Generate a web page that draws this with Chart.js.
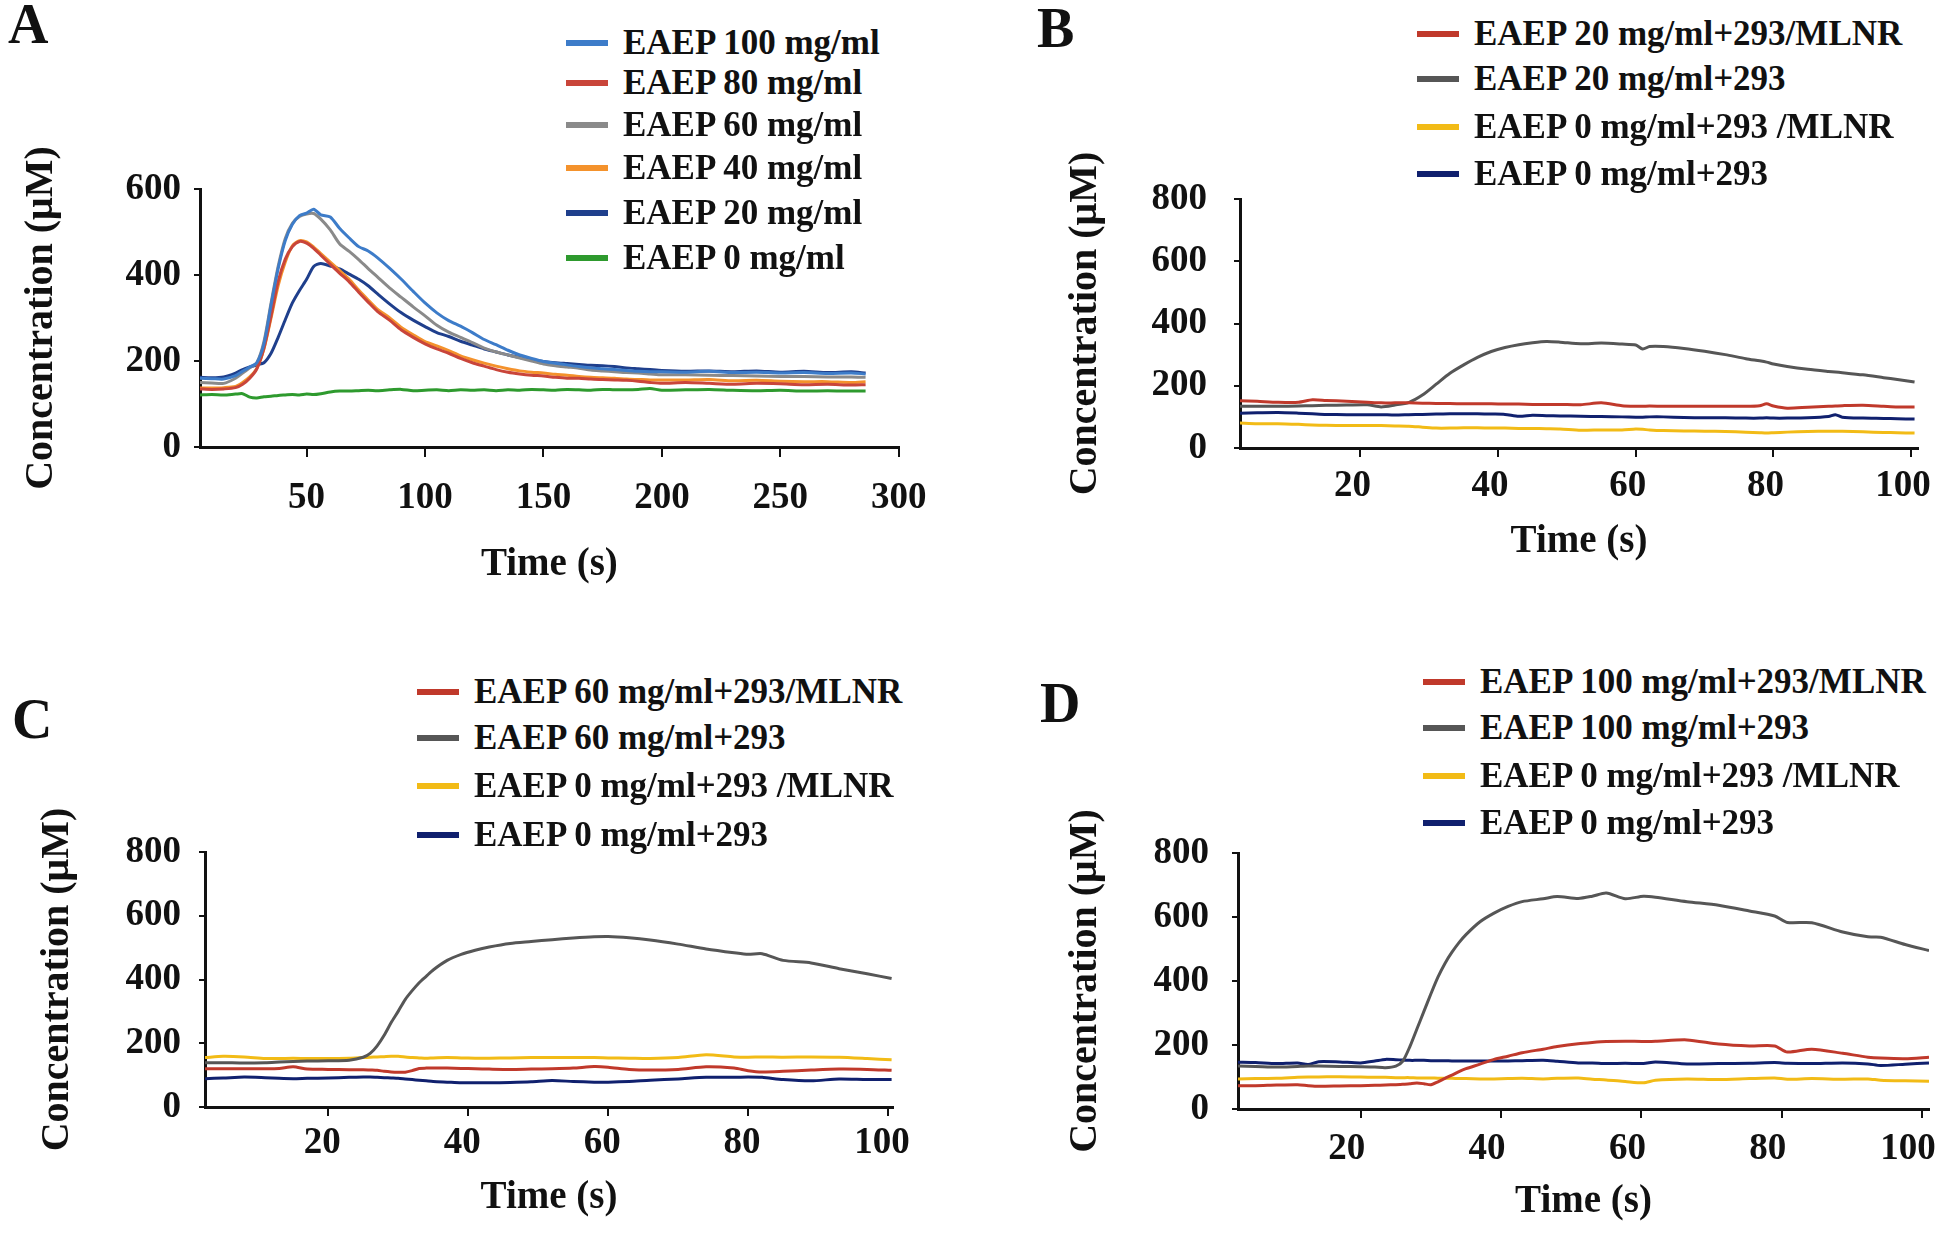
<!DOCTYPE html>
<html>
<head>
<meta charset="utf-8">
<title>EAEP concentration curves</title>
<script src="https://cdn.jsdelivr.net/npm/chart.js@4.4.1/dist/chart.umd.min.js"></script>
<style>
  html, body { margin: 0; padding: 0; background: #fff; }
  #page {
    position: relative; width: 1946px; height: 1238px; overflow: hidden;
    font-family: "Liberation Serif", "Times New Roman", serif; font-weight: bold; color: #111;
  }
  .chart-wrap { position: absolute; }
  .letter { position: absolute; font-size: 56px; line-height: 1; }
  .legend-row {
    position: absolute; display: flex; align-items: center; white-space: nowrap;
    height: 40px; transform: translateY(-50%); font-size: 35px;
  }
  .swatch { display: inline-block; width: 42px; height: 6px; margin-right: 15px; }
</style>
</head>
<body>
<div id="page"></div>
<script>
// ---- Panel A : EAEP dose series ----
const aTime = [5, 10, 15, 20, 23, 26, 29, 32, 35, 38, 41, 44, 47, 50, 53, 56, 60, 64, 68, 72, 76, 80, 85, 90, 95, 100,
  105, 110, 115, 120, 125, 130, 135, 140, 145, 150, 155, 160, 165, 170, 175, 180, 185, 190, 195, 200,
  210, 220, 230, 240, 250, 260, 270, 280, 286];
const aEaep100 = [160, 159, 158, 166, 176, 186, 196, 240, 330, 415, 480, 518, 538, 544, 553, 540, 535, 508, 486, 466, 456, 440, 416, 390, 362, 335,
  312, 294, 281, 266, 250, 238, 225, 214, 206, 199, 195, 191, 187, 184, 182, 180, 178, 176, 175, 175,
  174, 176, 173, 174, 172, 173, 171, 172, 170];
const aEaep80 = [135, 134, 135, 138, 146, 160, 182, 230, 305, 385, 437, 466, 478, 474, 462, 446, 425, 404, 384, 360, 337, 315, 295, 272, 255, 240,
  228, 218, 206, 196, 188, 180, 174, 170, 167, 165, 162, 160, 160, 158, 157, 156, 155, 153, 150, 148,
  150, 148, 146, 148, 147, 145, 146, 144, 145];
const aEaep60 = [150, 149, 148, 160, 172, 184, 196, 245, 335, 420, 485, 520, 536, 542, 543, 530, 505, 472, 455, 436, 415, 395, 370, 348, 326, 305,
  283, 267, 255, 243, 230, 221, 214, 207, 200, 193, 189, 186, 183, 179, 177, 175, 173, 172, 170, 168,
  168, 167, 166, 165, 164, 164, 163, 163, 162];
const aEaep40 = [137, 137, 138, 141, 150, 163, 183, 228, 300, 375, 430, 468, 480, 477, 465, 450, 430, 410, 390, 365, 342, 320, 301, 278, 261, 245,
  235, 224, 212, 203, 195, 188, 182, 177, 174, 172, 169, 167, 164, 162, 161, 160, 158, 157, 156, 156,
  156, 157, 154, 155, 153, 152, 152, 150, 152];
const aEaep20 = [162, 161, 163, 172, 180, 186, 191, 196, 218, 255, 296, 335, 364, 390, 420, 427, 421, 414, 402, 390, 375, 356, 333, 312, 295, 280,
  266, 257, 246, 237, 228, 221, 214, 208, 203, 199, 196, 194, 192, 190, 189, 187, 184, 182, 180, 178,
  176, 177, 175, 177, 174, 176, 173, 175, 172];
const aEaep0 = [121, 122, 121, 123, 124, 116, 114, 117, 118, 120, 121, 122, 121, 123, 122, 124, 128, 130, 130, 131, 132, 131, 133, 134, 131, 132,
  133, 131, 133, 132, 133, 131, 133, 132, 134, 133, 132, 134, 133, 132, 134, 133, 133, 134, 136, 132,
  133, 134, 132, 131, 132, 130, 131, 130, 130];
const aXTicks = [50, 100, 150, 200, 250, 300];
const aYTicks = [0, 200, 400, 600];

// ---- Panel B : EAEP 20 mg/ml ----
const bTime = [2.5, 5, 8, 11, 13, 15, 18, 21, 23, 25, 27, 29, 31, 33, 35, 37, 39, 41, 43, 45, 47, 49, 52, 55, 58, 60, 61, 62,
  64, 67, 70, 73, 76, 78, 79, 80, 82, 85, 88, 89, 90, 93, 96, 98, 100.5];
const bDoseMlnr = [152, 150, 147, 147, 155, 153, 150, 147, 145, 145, 145, 144, 143, 143, 142, 142, 142, 141, 141, 140, 140, 140, 139, 145, 136, 134, 134, 135,
  134, 134, 134, 134, 134, 136, 142, 135, 128, 131, 134, 135, 136, 137, 134, 132, 132];
const bDose = [134, 134, 134, 135, 136, 137, 138, 139, 132, 138, 146, 170, 205, 240, 267, 291, 310, 323, 332, 338, 342, 340, 335, 337, 334, 331, 318, 326,
  326, 320, 311, 300, 287, 280, 276, 270, 262, 253, 246, 244, 242, 235, 226, 220, 212];
const bZeroMlnr = [80, 78, 78, 76, 74, 73, 72, 72, 72, 71, 70, 67, 64, 64, 65, 65, 64, 64, 63, 63, 62, 61, 57, 58, 58, 61, 60, 58,
  56, 55, 54, 53, 51, 49, 48, 49, 51, 53, 54, 54, 54, 52, 50, 49, 48];
const bZero = [112, 113, 114, 112, 110, 108, 107, 107, 107, 106, 107, 108, 109, 110, 110, 110, 109, 108, 102, 105, 104, 103, 102, 101, 100, 99, 99, 100,
  100, 98, 97, 97, 96, 96, 97, 96, 96, 97, 101, 107, 99, 96, 95, 94, 93];

// ---- Panel C : EAEP 60 mg/ml ----
const cTime = [2.4, 5, 8, 11, 13, 15, 17, 20, 23, 25, 26, 27, 28, 29, 30, 31, 32, 33, 34, 35, 37, 39, 41, 43, 46, 49, 52,
  55, 58, 60, 63, 66, 70, 74, 78, 80, 82, 85, 89, 93, 97, 100.5];
const cDoseMlnr = [120, 120, 120, 120, 121, 126, 119, 118, 117, 117, 116, 115, 112, 110, 109, 109, 114, 121, 122, 122, 122, 121, 120, 119, 118, 119, 120,
  122, 127, 125, 118, 116, 118, 126, 122, 114, 110, 112, 116, 119, 118, 115];
const cDose = [139, 139, 138, 139, 141, 143, 144, 145, 147, 156, 168, 192, 225, 265, 300, 337, 365, 390, 410, 430, 460, 479, 492, 502, 513, 519, 525,
  530, 534, 535, 531, 524, 511, 496, 484, 479, 481, 460, 452, 434, 418, 403];
const cZeroMlnr = [155, 159, 157, 152, 152, 153, 152, 152, 153, 155, 156, 157, 158, 159, 159, 157, 155, 154, 153, 154, 155, 154, 153, 153, 154, 155, 155,
  155, 155, 154, 153, 152, 155, 164, 157, 156, 157, 156, 157, 156, 152, 148];
const cZero = [89, 91, 94, 92, 90, 89, 90, 91, 93, 94, 94, 93, 92, 91, 90, 88, 86, 84, 82, 80, 78, 76, 76, 76, 77, 79, 83,
  80, 78, 78, 80, 84, 88, 93, 93, 94, 93, 86, 82, 88, 86, 86];

// ---- Panel D : EAEP 100 mg/ml ----
const dTime = [2.5, 5, 8, 11, 12.5, 14, 17, 20, 22, 23.5, 25, 26, 27, 28, 29, 30, 31, 32, 33, 34, 35, 37, 39, 41, 43, 46,
  48, 51, 53, 55, 57.7, 60.3, 62, 66.5, 71, 75.4, 79, 80.8, 84.3, 88.7, 92.3, 94.1, 97.6, 101];
const dDoseMlnr = [73, 73, 75, 76, 73, 71, 72, 73, 74, 75, 76, 77, 79, 81, 79, 76, 85, 96, 106, 117, 126, 140, 155, 165, 176, 187,
  195, 204, 208, 211, 212, 211, 212, 216, 203, 197, 197, 178, 187, 174, 162, 159, 157, 162];
const dDose = [134, 133, 131, 133, 134, 134, 133, 132, 131, 129, 134, 150, 195, 250, 305, 360, 412, 455, 490, 520, 545, 585, 612, 633, 648, 657,
  664, 658, 665, 675, 657, 665, 662, 648, 637, 619, 603, 583, 582, 553, 538, 537, 514, 495];
const dZeroMlnr = [94, 95, 96, 99, 100, 100, 101, 100, 99, 99, 98, 98, 98, 97, 97, 97, 96, 96, 96, 95, 95, 94, 94, 95, 96, 94,
  96, 97, 93, 91, 86, 82, 90, 94, 92, 95, 97, 93, 95, 93, 94, 90, 88, 87];
const dZero = [146, 145, 142, 144, 139, 148, 147, 144, 150, 155, 154, 153, 152, 152, 152, 151, 151, 151, 150, 150, 150, 150, 150, 150, 151, 152,
  149, 144, 144, 142, 143, 142, 147, 141, 142, 143, 145, 143, 142, 144, 141, 136, 140, 144];

const bcdXTicks = [20, 40, 60, 80, 100];
const bcdYTicks = [0, 200, 400, 600, 800];

const RED = '#c0392b', GREY = '#565656', YELLOW = '#f2bb16', NAVY = '#10206e';

const panels = [
  {
    letter: 'A', letterPos: [8, -4],
    time: aTime, xMin: 5, xMax: 300, xTicks: aXTicks, yMax: 600, yTicks: aYTicks, labelOffset: 0,
    series: [
      { label: 'EAEP 100 mg/ml', values: aEaep100, color: '#3d7cc9' },
      { label: 'EAEP 80 mg/ml', values: aEaep80, color: '#c9453a' },
      { label: 'EAEP 60 mg/ml', values: aEaep60, color: '#8a8a8a' },
      { label: 'EAEP 40 mg/ml', values: aEaep40, color: '#f4922c' },
      { label: 'EAEP 20 mg/ml', values: aEaep20, color: '#1f3f8c' },
      { label: 'EAEP 0 mg/ml', values: aEaep0, color: '#2e9a2e' }
    ],
    box: { plotL: 200, plotR: 904, plotT: 189, plotB: 447, yTitleX: 42, xTitleY: 565, yGap: 19, xLabY: 498, xTick: 10 },
    legend: { left: 566, rows: [43, 83, 125, 168, 213, 258] }
  },
  {
    letter: 'B', letterPos: [1037, 0],
    time: bTime, xMin: 2.5, xMax: 101, xTicks: bcdXTicks, yMax: 800, yTicks: bcdYTicks, labelOffset: -8,
    series: [
      { label: 'EAEP 20 mg/ml+293/MLNR', values: bDoseMlnr, color: RED },
      { label: 'EAEP 20 mg/ml+293', values: bDose, color: GREY },
      { label: 'EAEP 0 mg/ml+293 /MLNR', values: bZeroMlnr, color: YELLOW },
      { label: 'EAEP 0 mg/ml+293', values: bZero, color: NAVY }
    ],
    box: { plotL: 1240, plotR: 1918, plotT: 199, plotB: 448, yTitleX: 1086, xTitleY: 542, yGap: 33, xLabY: 486, xTick: 9 },
    legend: { left: 1417, rows: [34, 79, 127, 174] }
  },
  {
    letter: 'C', letterPos: [12, 691],
    time: cTime, xMin: 2.4, xMax: 100.7, xTicks: bcdXTicks, yMax: 800, yTicks: bcdYTicks, labelOffset: -6,
    series: [
      { label: 'EAEP 60 mg/ml+293/MLNR', values: cDoseMlnr, color: RED },
      { label: 'EAEP 60 mg/ml+293', values: cDose, color: GREY },
      { label: 'EAEP 0 mg/ml+293 /MLNR', values: cZeroMlnr, color: YELLOW },
      { label: 'EAEP 0 mg/ml+293', values: cZero, color: NAVY }
    ],
    box: { plotL: 205, plotR: 893, plotT: 852, plotB: 1107, yTitleX: 58, xTitleY: 1198, yGap: 24, xLabY: 1143, xTick: 9 },
    legend: { left: 417, rows: [692, 738, 786, 835] }
  },
  {
    letter: 'D', letterPos: [1040, 675],
    time: dTime, xMin: 2.5, xMax: 101, xTicks: bcdXTicks, yMax: 800, yTicks: bcdYTicks, labelOffset: -14,
    series: [
      { label: 'EAEP 100 mg/ml+293/MLNR', values: dDoseMlnr, color: RED },
      { label: 'EAEP 100 mg/ml+293', values: dDose, color: GREY },
      { label: 'EAEP 0 mg/ml+293 /MLNR', values: dZeroMlnr, color: YELLOW },
      { label: 'EAEP 0 mg/ml+293', values: dZero, color: NAVY }
    ],
    box: { plotL: 1238, plotR: 1929, plotT: 853, plotB: 1109, yTitleX: 1086, xTitleY: 1202, yGap: 29, xLabY: 1149, xTick: 9 },
    legend: { left: 1423, rows: [682, 728, 776, 823] }
  }
];

Chart.defaults.font.family = '"Liberation Serif", "Times New Roman", serif';
Chart.defaults.font.weight = 'bold';
Chart.defaults.color = '#111';

const page = document.getElementById('page');
const AXIS = '#111';

function buildPanel(p) {
  const b = p.box;
  const canvasL = b.yTitleX - 28;
  const canvasT = b.plotT - 60;
  const xAxisH = b.xTitleY + 24 - b.plotB;
  const canvasW = b.plotR + 45 - canvasL;
  const canvasH = (b.plotB - canvasT) + xAxisH + 6;

  const wrap = document.createElement('div');
  wrap.className = 'chart-wrap';
  wrap.style.left = canvasL + 'px';
  wrap.style.top = canvasT + 'px';
  const canvas = document.createElement('canvas');
  canvas.width = canvasW;
  canvas.height = canvasH;
  canvas.style.width = canvasW + 'px';
  canvas.style.height = canvasH + 'px';
  wrap.appendChild(canvas);
  page.appendChild(wrap);

  const chart = new Chart(canvas.getContext('2d'), {
    type: 'line',
    data: {
      datasets: p.series.map(s => ({
        label: s.label,
        data: p.time.map((t, i) => ({ x: t, y: s.values[i] })),
        borderColor: s.color,
        backgroundColor: s.color,
        borderWidth: 3,
        pointRadius: 0,
        tension: 0.25,
        fill: false
      }))
    },
    options: {
      responsive: false,
      devicePixelRatio: 1,
      animation: false,
      layout: { padding: { left: 0, top: 60, right: 45, bottom: 6 } },
      plugins: { legend: { display: false }, tooltip: { enabled: false } },
      scales: {
        x: {
          type: 'linear',
          min: p.xMin,
          max: p.xMax,
          afterBuildTicks: s => { s.ticks = p.xTicks.map(v => ({ value: v })); },
          afterFit: s => { s.height = xAxisH; },
          border: { display: true, color: AXIS, width: 3 },
          grid: { display: true, drawOnChartArea: false, drawTicks: true, tickLength: b.xTick, color: AXIS, lineWidth: 2 },
          ticks: {
            autoSkip: false, maxRotation: 0, color: '#111',
            labelOffset: p.labelOffset,
            padding: b.xLabY - b.plotB - b.xTick - 18.5,
            font: { size: 37, weight: 'bold', lineHeight: 1 }
          },
          title: {
            display: true, text: 'Time (s)', color: '#111',
            font: { size: 39, weight: 'bold', lineHeight: 1 },
            padding: { top: 0, bottom: 4.5 }
          }
        },
        y: {
          min: 0,
          max: p.yMax,
          afterBuildTicks: s => { s.ticks = p.yTicks.map(v => ({ value: v })); },
          afterFit: s => { s.width = b.plotL - canvasL; },
          border: { display: true, color: AXIS, width: 3 },
          grid: { display: true, drawOnChartArea: false, drawTicks: true, tickLength: 6, color: AXIS, lineWidth: 2 },
          ticks: {
            color: '#111',
            padding: b.yGap - 6,
            font: { size: 37, weight: 'bold', lineHeight: 1 }
          },
          title: {
            display: true, text: 'Concentration (μM)', color: '#111',
            font: { size: 40, weight: 'bold', lineHeight: 1 },
            padding: { top: 8, bottom: 0 }
          }
        }
      }
    }
  });

  // panel letter
  const letter = document.createElement('div');
  letter.className = 'letter';
  letter.textContent = p.letter;
  letter.style.left = p.letterPos[0] + 'px';
  letter.style.top = p.letterPos[1] + 'px';
  page.appendChild(letter);

  // legend built from the chart's own datasets
  chart.data.datasets.forEach((ds, i) => {
    const row = document.createElement('div');
    row.className = 'legend-row';
    row.style.left = p.legend.left + 'px';
    row.style.top = p.legend.rows[i] + 'px';
    const sw = document.createElement('span');
    sw.className = 'swatch';
    sw.style.background = ds.borderColor;
    const txt = document.createElement('span');
    txt.textContent = ds.label;
    row.appendChild(sw);
    row.appendChild(txt);
    page.appendChild(row);
  });
}

panels.forEach(buildPanel);
</script>
</body>
</html>
